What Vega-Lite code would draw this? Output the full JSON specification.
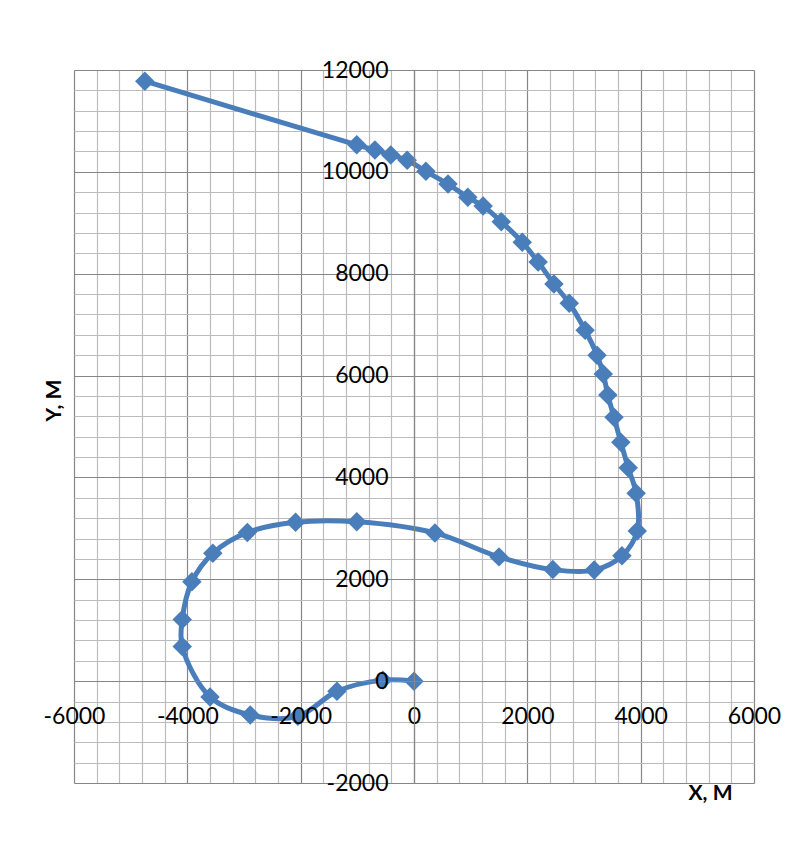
{
  "$schema": "https://vega.github.io/schema/vega-lite/v6.json",
  "autosize": {"type": "none"},
  "width": 680,
  "height": 713,
  "padding": {"left": 74, "top": 70, "right": 40, "bottom": 65},
  "background": "white",
  "config": {
    "view": {"stroke": null},
    "font": "Lato",
    "axis": {"labelFont": "Lato", "titleFont": "Lato"}
  },
  "data": {
    "values": [
      {"i": 1, "x": 0, "y": 0},
      {"i": 2, "x": -550, "y": 20},
      {"i": 3, "x": -1360, "y": -200},
      {"i": 4, "x": -2050, "y": -690},
      {"i": 5, "x": -2890, "y": -665},
      {"i": 6, "x": -3600, "y": -310},
      {"i": 7, "x": -4090, "y": 680},
      {"i": 8, "x": -4090, "y": 1210},
      {"i": 9, "x": -3920, "y": 1950},
      {"i": 10, "x": -3550, "y": 2510},
      {"i": 11, "x": -2940, "y": 2920},
      {"i": 12, "x": -2090, "y": 3120},
      {"i": 13, "x": -1010, "y": 3130},
      {"i": 14, "x": 370, "y": 2910},
      {"i": 15, "x": 1500, "y": 2440},
      {"i": 16, "x": 2450, "y": 2190},
      {"i": 17, "x": 3180, "y": 2180},
      {"i": 18, "x": 3670, "y": 2460},
      {"i": 19, "x": 3940, "y": 2950},
      {"i": 20, "x": 3920, "y": 3690},
      {"i": 21, "x": 3780, "y": 4190},
      {"i": 22, "x": 3650, "y": 4690},
      {"i": 23, "x": 3530, "y": 5180},
      {"i": 24, "x": 3420, "y": 5620},
      {"i": 25, "x": 3340, "y": 6030},
      {"i": 26, "x": 3230, "y": 6400},
      {"i": 27, "x": 3020, "y": 6890},
      {"i": 28, "x": 2740, "y": 7420},
      {"i": 29, "x": 2470, "y": 7800},
      {"i": 30, "x": 2190, "y": 8230},
      {"i": 31, "x": 1910, "y": 8620},
      {"i": 32, "x": 1540, "y": 9020},
      {"i": 33, "x": 1220, "y": 9330},
      {"i": 34, "x": 950, "y": 9500},
      {"i": 35, "x": 600, "y": 9760},
      {"i": 36, "x": 210, "y": 10010},
      {"i": 37, "x": -120, "y": 10230},
      {"i": 38, "x": -410, "y": 10330},
      {"i": 39, "x": -690, "y": 10430},
      {"i": 40, "x": -1010, "y": 10530},
      {"i": 41, "x": -4750, "y": 11780}
    ]
  },
  "resolve": {"axis": {"x": "independent", "y": "independent"}},
  "layer": [
    {
      "mark": {"type": "line", "interpolate": "catmull-rom", "color": "#4a7ebb", "strokeWidth": 5, "strokeJoin": "round", "strokeCap": "round"},
      "encoding": {
        "order": {"field": "i", "type": "quantitative"},
        "x": {
          "field": "x", "type": "quantitative",
          "scale": {"domain": [-6000, 6000], "nice": false, "zero": false},
          "axis": {
            "orient": "top", "title": null, "labels": false, "ticks": false, "domain": false,
            "grid": true, "gridWidth": 1.2,
            "gridColor": {"condition": {"test": "datum.value % 2000 === 0", "value": "#868686"}, "value": "#bcbcbc"},
            "values": [-6000,-5600,-5200,-4800,-4400,-4000,-3600,-3200,-2800,-2400,-2000,-1600,-1200,-800,-400,0,400,800,1200,1600,2000,2400,2800,3200,3600,4000,4400,4800,5200,5600,6000]
          }
        },
        "y": {
          "field": "y", "type": "quantitative",
          "scale": {"domain": [-2000, 12000], "nice": false, "zero": false},
          "axis": {
            "orient": "right", "title": null, "labels": false, "ticks": false, "domain": false,
            "grid": true, "gridWidth": 1.2,
            "gridColor": {"condition": {"test": "datum.value % 2000 === 0", "value": "#868686"}, "value": "#bcbcbc"},
            "values": [-2000,-1600,-1200,-800,-400,0,400,800,1200,1600,2000,2400,2800,3200,3600,4000,4400,4800,5200,5600,6000,6400,6800,7200,7600,8000,8400,8800,9200,9600,10000,10400,10800,11200,11600,12000]
          }
        }
      }
    },
    {
      "mark": {"type": "point", "shape": "diamond", "filled": true, "color": "#4a7ebb", "opacity": 1, "size": 380},
      "encoding": {
        "x": {
          "field": "x", "type": "quantitative",
          "axis": {
            "orient": "bottom", "offset": -102, "zindex": 1,
            "values": [-6000, -4000, -2000, 0, 2000, 4000, 6000],
            "labelExpr": "datum.value + ''",
            "grid": false, "ticks": false, "domain": true, "domainColor": "#868686", "domainWidth": 1.2,
            "labelFontSize": 23, "labelColor": "#000000", "labelPadding": 24, "labelFlush": false, "labelOverlap": false,
            "title": "X, M", "titleFontSize": 21, "titleFontWeight": "bold", "titleColor": "#000000",
            "titleX": 636, "titleY": 112, "titleAlign": "center", "titleBaseline": "middle", "titleAnchor": null
          }
        },
        "y": {
          "field": "y", "type": "quantitative",
          "axis": {
            "orient": "left", "offset": -340, "zindex": 1,
            "values": [-2000, 0, 2000, 4000, 6000, 8000, 10000, 12000],
            "labelExpr": "datum.value + ''",
            "grid": false, "ticks": false, "domain": true, "domainColor": "#868686", "domainWidth": 1.2,
            "labelFontSize": 23, "labelColor": "#000000", "labelPadding": 26, "labelFlush": false, "labelOverlap": false,
            "title": "Y, M", "titleFontSize": 21, "titleFontWeight": "bold", "titleColor": "#000000",
            "titleX": -360, "titleY": 330, "titleAngle": -90, "titleAlign": "center", "titleBaseline": "middle", "titleAnchor": null
          }
        }
      }
    }
  ]
}
